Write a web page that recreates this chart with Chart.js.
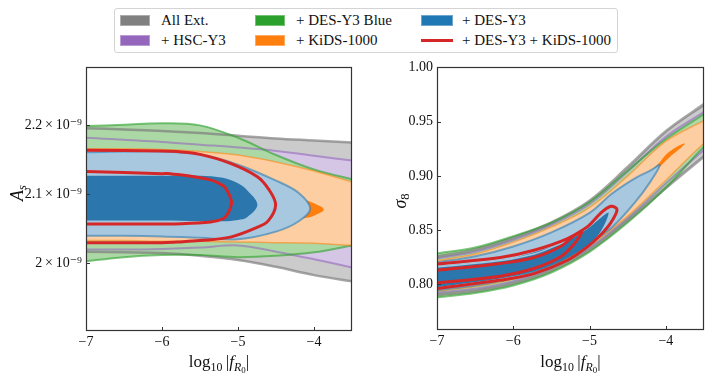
<!DOCTYPE html>
<html>
<head>
<meta charset="utf-8">
<script src="https://cdn.jsdelivr.net/npm/chart.js@4.4.1/dist/chart.umd.min.js"></script>
<style>
  body { margin: 0; background: #fff; }
  #page { position: relative; width: 713px; height: 381px; overflow: hidden; font-family: "Liberation Serif", "DejaVu Serif", serif; color: #111; }
  #legend { position: absolute; left: 114px; top: 8px; width: 504px; height: 45px; border: 1px solid #d4d4d4; border-radius: 3px; box-sizing: border-box; }
  .txt { position: absolute; font-size: 15px; line-height: 20px; white-space: nowrap; }
  .patch { position: absolute; width: 30px; height: 11px; box-sizing: border-box; }
  .holder { position: absolute; top: 55px; height: 326px; }
  .xlab { position: absolute; top: 351px; text-align: center; font-size: 17px; line-height: 22px; }
  .ylab { position: absolute; font-size: 18px; transform: translate(-50%, -50%) rotate(-90deg); white-space: nowrap; }
  sub { font-size: 70%; vertical-align: -0.3em; line-height: 0; }
  sub sub { font-size: 75%; vertical-align: -0.25em; }
</style>
</head>
<body>
<div id="page">
  <div id="legend"></div>
  <div class="holder" style="left:0;width:360px"><canvas id="asChart" width="360" height="326"></canvas></div>
  <div class="holder" style="left:360px;width:353px"><canvas id="s8Chart" width="353" height="326"></canvas></div>
  <div class="xlab" style="left:86px;width:266px">log<sub>10</sub>&#8201;|<i>f</i><sub><i>R</i><sub>0</sub></sub>|</div>
  <div class="xlab" style="left:437px;width:267px">log<sub>10</sub>&#8201;|<i>f</i><sub><i>R</i><sub>0</sub></sub>|</div>
  <div class="ylab" style="left:17px;top:193px"><i>A</i><sub><i>s</i></sub></div>
  <div class="ylab" style="left:400px;top:201px"><i>σ</i><sub>8</sub></div>
</div>
<script>
// legend
const seriesNames = ['All Ext.', '+ HSC-Y3', '+ DES-Y3 Blue', '+ KiDS-1000', '+ DES-Y3', '+ DES-Y3 + KiDS-1000'];
const seriesColors = ['#808080', '#9467bd', '#2ca02c', '#ff7f0e', '#1f77b4', '#d62728'];

// axes
const xTicks = [-7, -6, -5, -4];
const xTickLabels = ['\u22127', '\u22126', '\u22125', '\u22124'];
const asTicks = [2.0, 2.1, 2.2];
const asTickLabels = ['2\u2009\u00d7\u200910\u207b\u2079', '2.1\u2009\u00d7\u200910\u207b\u2079', '2.2\u2009\u00d7\u200910\u207b\u2079'];
const s8Ticks = [0.80, 0.85, 0.90, 0.95, 1.00];
const s8TickLabels = ['0.80', '0.85', '0.90', '0.95', '1.00'];

// left panel, A_s in units of 1e-9; 95% bands on a shared log10|fR0| grid
const fR0Grid = [-7.3, -7, -6.5, -6, -5.5, -5, -4.5, -4, -3.5, -3.2];
const asAllExtTop = [2.197, 2.196, 2.194, 2.192, 2.189, 2.185, 2.181, 2.178, 2.175, 2.173];
const asAllExtBot = [2.017, 2.017, 2.016, 2.015, 2.011, 2.005, 1.995, 1.983, 1.974, 1.969];
const asHscTop = [2.183, 2.182, 2.179, 2.176, 2.172, 2.168, 2.163, 2.156, 2.149, 2.145];
const asHscBot = [2.020, 2.020, 2.020, 2.021, 2.023, 2.026, 2.017, 2.006, 1.994, 1.986];
const asDesBlueTop = [2.198, 2.199, 2.201, 2.203, 2.200, 2.182, 2.157, 2.136, 2.122, 2.115];
const asDesBlueBot = [1.999, 2.003, 2.009, 2.012, 2.012, 2.009, 2.011, 2.016, 2.026, 2.032];
const asKidsTop = [2.166, 2.166, 2.166, 2.165, 2.162, 2.157, 2.147, 2.134, 2.118, 2.108];
const asKidsBot = [2.033, 2.033, 2.033, 2.032, 2.032, 2.031, 2.030, 2.029, 2.026, 2.025];
// closed contours: x, upper edge, lower edge, tip
const asKids68X = [-7.3, -5, -4.3, -4.1, -4.0];
const asKids68Top = [2.110, 2.105, 2.096, 2.091, 2.087];
const asKids68Bot = [2.055, 2.058, 2.063, 2.066, 2.069];
const asKids68Tip = [-3.87, 2.078];
const asDesX = [-7.3, -7, -6.5, -6, -5.5, -5, -4.5, -4.2];
const asDesTop = [2.161, 2.161, 2.162, 2.162, 2.158, 2.143, 2.120, 2.102];
const asDesBot = [2.040, 2.040, 2.040, 2.039, 2.037, 2.035, 2.046, 2.061];
const asDesTip = [-4.05, 2.079];
const asDes68X = [-7.3, -7, -6, -5.5, -5.2, -5.0, -4.88];
const asDes68Top = [2.127, 2.127, 2.127, 2.127, 2.124, 2.116, 2.106];
const asDes68Bot = [2.062, 2.062, 2.062, 2.061, 2.061, 2.063, 2.067];
const asDes68Tip = [-4.745, 2.085];
const asComboX = [-7.3, -7, -6, -5.8, -5.5, -5.1, -4.75, -4.6];
const asComboTop = [2.164, 2.164, 2.163, 2.162, 2.158, 2.145, 2.126, 2.108];
const asComboBot = [2.030, 2.030, 2.030, 2.031, 2.033, 2.038, 2.052, 2.062];
const asComboTip = [-4.505, 2.085];
const asCombo68X = [-7.3, -7, -6, -5.89, -5.36, -5.19, -5.13];
const asCombo68Top = [2.133, 2.133, 2.130, 2.130, 2.121, 2.112, 2.103];
const asCombo68Bot = [2.057, 2.057, 2.057, 2.057, 2.060, 2.065, 2.073];
const asCombo68Tip = [-5.085, 2.088];

// right panel, sigma_8
const s8AllExtTop = [0.822, 0.8255, 0.832, 0.843, 0.857, 0.877, 0.908, 0.941, 0.966, 0.981];
const s8AllExtBot = [0.788, 0.7905, 0.794, 0.801, 0.813, 0.832, 0.859, 0.889, 0.918, 0.935];
const s8HscTop = [0.821, 0.824, 0.830, 0.841, 0.855, 0.874, 0.904, 0.936, 0.959, 0.973];
const s8HscBot = [0.790, 0.7925, 0.796, 0.803, 0.815, 0.834, 0.861, 0.893, 0.924, 0.940];
const s8DesBlueTop = [0.825, 0.8285, 0.834, 0.8445, 0.857, 0.876, 0.905, 0.934, 0.957, 0.970];
const s8DesBlueBot = [0.785, 0.788, 0.792, 0.799, 0.811, 0.830, 0.857, 0.889, 0.927, 0.945];
const s8KidsTop = [0.819, 0.822, 0.828, 0.839, 0.853, 0.871, 0.900, 0.932, 0.951, 0.962];
const s8KidsBot = [0.791, 0.794, 0.798, 0.805, 0.817, 0.836, 0.863, 0.896, 0.930, 0.946];
const s8Kids68X = [-4.5, -4.3, -4.1, -4.0, -3.9, -3.8];
const s8Kids68Top = [0.889, 0.8985, 0.911, 0.9195, 0.925, 0.929];
const s8Kids68Bot = [0.8875, 0.8955, 0.907, 0.914, 0.9205, 0.926];
const s8Kids68Tip = [-3.75, 0.9298];
const s8DesX = [-7.3, -7, -6.5, -6, -5.5, -5, -4.7, -4.4, -4.2];
const s8DesTop = [0.8175, 0.8205, 0.826, 0.835, 0.848, 0.866, 0.884, 0.898, 0.905];
const s8DesBot = [0.791, 0.7945, 0.799, 0.806, 0.817, 0.838, 0.853, 0.876, 0.895];
const s8DesTip = [-4.08, 0.910];
const s8Des68X = [-7.3, -7, -6.17, -5.73, -5.29, -5.03, -4.86];
const s8Des68Top = [0.8135, 0.8165, 0.8225, 0.8295, 0.8405, 0.851, 0.861];
const s8Des68Bot = [0.7945, 0.7975, 0.8055, 0.812, 0.824, 0.836, 0.848];
const s8Des68Tip = [-4.75, 0.866];
const s8DesRidgeX = [-7.3, -7, -6.17, -5.73, -5.4, -5.25];
const s8DesRidgeY = [0.8135, 0.816, 0.822, 0.828, 0.837, 0.842];
const s8ComboX = [-7.3, -7, -6.17, -5.73, -5.29, -5.03, -4.86, -4.72];
const s8ComboTop = [0.816, 0.8187, 0.8248, 0.8315, 0.8423, 0.853, 0.8653, 0.872];
const s8ComboBot = [0.7935, 0.7963, 0.804, 0.810, 0.8223, 0.8346, 0.8453, 0.857];
const s8ComboTip = [-4.64, 0.869];
const s8Combo68X = [-7.3, -7, -6.17, -5.73, -5.38, -5.2];
const s8Combo68Top = [0.811, 0.8131, 0.8193, 0.8248, 0.835, 0.845];
const s8Combo68Bot = [0.7995, 0.8015, 0.8076, 0.8147, 0.8255, 0.8375];
const s8Combo68Tip = [-5.10, 0.849];

// light fills for 95%, solid for 68%
const light = { allExt: '#cbcbcb', hsc: '#d6c6e6', desBlue: '#acd8a5', kids: '#fdcea1', des: '#a8c8df' };
const edge = {
  allExt: 'rgba(120,120,120,0.65)', hsc: 'rgba(148,103,189,0.6)', desBlue: 'rgba(44,160,44,0.6)',
  kids: 'rgba(255,127,14,0.55)', des: 'rgba(31,119,180,0.55)'
};

function contour(xs, top, bot, tip) {
  const pts = xs.map((x, i) => ({ x: x, y: top[i] }));
  if (tip) pts.push({ x: tip[0], y: tip[1] });
  for (let i = xs.length - 1; i >= 0; i--) pts.push({ x: xs[i], y: bot[i] });
  pts.push(pts[0]);
  return pts;
}

function fillSet(pts, color, order) {
  return { data: pts, showLine: true, fill: 'shape', backgroundColor: color, borderColor: 'rgba(0,0,0,0)',
    borderWidth: 0, pointRadius: 0, tension: 0.35, order: order, clip: 0 };
}
function lineSet(pts, color, width, order) {
  return { data: pts, showLine: true, fill: false, borderColor: color, borderWidth: width,
    pointRadius: 0, tension: 0.35, order: order, clip: 0 };
}

const frame = {
  id: 'frame',
  afterDraw(chart) {
    const { ctx, chartArea: a, scales } = chart;
    ctx.save();
    ctx.strokeStyle = '#333';
    ctx.lineWidth = 1;
    ctx.beginPath();
    scales.x.ticks.forEach(t => {
      const p = Math.round(scales.x.getPixelForValue(t.value)) + 0.5;
      ctx.moveTo(p, a.bottom); ctx.lineTo(p, a.bottom - 4);
    });
    scales.y.ticks.forEach(t => {
      const p = Math.round(scales.y.getPixelForValue(t.value)) + 0.5;
      ctx.moveTo(a.left, p); ctx.lineTo(a.left + 4, p);
    });
    ctx.stroke();
    ctx.lineWidth = 1.2;
    ctx.strokeRect(Math.round(a.left) + 0.5, Math.round(a.top) + 0.5, Math.round(a.width) - 1, Math.round(a.height) - 1);
    ctx.restore();
  }
};

const tickFont = { family: '"Liberation Serif", "DejaVu Serif", serif', size: 14 };

function makeChart(id, datasets, yMin, yMax, yTicks, yLabels, pad, yWidth, xHeight) {
  return new Chart(document.getElementById(id), {
    type: 'scatter',
    data: { datasets: datasets },
    options: {
      responsive: false,
      animation: false,
      events: [],
      layout: { padding: pad },
      elements: { line: { capBezierPoints: false } },
      plugins: { legend: { display: false }, tooltip: { enabled: false } },
      scales: {
        x: {
          type: 'linear', min: -7, max: -3.5,
          grid: { display: false, drawTicks: false },
          border: { display: false },
          afterBuildTicks: s => { s.ticks = xTicks.map(v => ({ value: v })); },
          afterFit: s => { s.height = xHeight; },
          ticks: { autoSkip: false, maxRotation: 0, padding: 3, color: '#111', font: tickFont,
            callback: (v, i) => xTickLabels[i] }
        },
        y: {
          type: 'linear', min: yMin, max: yMax,
          grid: { display: false, drawTicks: false },
          border: { display: false },
          afterBuildTicks: s => { s.ticks = yTicks.map(v => ({ value: v })); },
          afterFit: s => { s.width = yWidth; },
          ticks: { autoSkip: false, padding: 4, color: '#111', font: tickFont,
            callback: (v, i) => yLabels[i] }
        }
      }
    },
    plugins: [frame]
  });
}

// left panel datasets
const asSets = [
  fillSet(contour(fR0Grid, asAllExtTop, asAllExtBot), light.allExt, 20),
  fillSet(contour(fR0Grid, asHscTop, asHscBot), light.hsc, 19),
  fillSet(contour(fR0Grid, asDesBlueTop, asDesBlueBot), light.desBlue, 18),
  fillSet(contour(fR0Grid, asKidsTop, asKidsBot), light.kids, 17),
  fillSet(contour(asKids68X, asKids68Top, asKids68Bot, asKids68Tip), seriesColors[3], 16),
  fillSet(contour(asDesX, asDesTop, asDesBot, asDesTip), light.des, 15),
  fillSet(contour(asDes68X, asDes68Top, asDes68Bot, asDes68Tip), '#2b77ad', 14),
  lineSet(contour(fR0Grid, asAllExtTop, asAllExtBot), edge.allExt, 2.5, 10),
  lineSet(contour(fR0Grid, asHscTop, asHscBot), edge.hsc, 2, 9),
  lineSet(contour(fR0Grid, asDesBlueTop, asDesBlueBot), edge.desBlue, 2, 8),
  lineSet(contour(fR0Grid, asKidsTop, asKidsBot), edge.kids, 1.5, 7),
  lineSet(contour(asDesX, asDesTop, asDesBot, asDesTip), edge.des, 2, 6),
  lineSet(contour(asComboX, asComboTop, asComboBot, asComboTip), seriesColors[5], 3, 4),
  lineSet(contour(asCombo68X, asCombo68Top, asCombo68Bot, asCombo68Tip), seriesColors[5], 3, 3)
];

// right panel datasets
const s8Sets = [
  fillSet(contour(fR0Grid, s8AllExtTop, s8AllExtBot), light.allExt, 20),
  fillSet(contour(fR0Grid, s8HscTop, s8HscBot), light.hsc, 19),
  fillSet(contour(fR0Grid, s8DesBlueTop, s8DesBlueBot), light.desBlue, 18),
  fillSet(contour(fR0Grid, s8KidsTop, s8KidsBot), light.kids, 17),
  fillSet(contour(s8Kids68X, s8Kids68Top, s8Kids68Bot, s8Kids68Tip), seriesColors[3], 16),
  fillSet(contour(s8DesX, s8DesTop, s8DesBot, s8DesTip), light.des, 15),
  fillSet(contour(s8Des68X, s8Des68Top, s8Des68Bot, s8Des68Tip), '#2b77ad', 14),
  lineSet(contour(fR0Grid, s8AllExtTop, s8AllExtBot), edge.allExt, 3, 10),
  lineSet(contour(fR0Grid, s8HscTop, s8HscBot), edge.hsc, 2, 9),
  lineSet(contour(fR0Grid, s8DesBlueTop, s8DesBlueBot), edge.desBlue, 2, 8),
  lineSet(contour(fR0Grid, s8KidsTop, s8KidsBot), edge.kids, 1.5, 7),
  lineSet(contour(s8DesX, s8DesTop, s8DesBot, s8DesTip), edge.des, 2, 6),
  lineSet(s8DesRidgeX.map((x, i) => ({ x: x, y: s8DesRidgeY[i] })), light.des, 1.5, 5),
  lineSet(contour(s8ComboX, s8ComboTop, s8ComboBot, s8ComboTip), seriesColors[5], 3, 4),
  lineSet(contour(s8Combo68X, s8Combo68Top, s8Combo68Bot, s8Combo68Tip), seriesColors[5], 3, 3)
];

makeChart('asChart', asSets, 1.902, 2.284, asTicks, asTickLabels, { left: 0, right: 8, top: 10, bottom: 0 }, 86, 50);
makeChart('s8Chart', s8Sets, 0.758, 1.0, s8Ticks, s8TickLabels, { left: 0, right: 9, top: 11.7, bottom: 0 }, 77, 51);

// legend: 3 columns x 2 rows, column-major
const legendCols = [5, 140, 306];
const legendRows = [5.5, 25.5];
const legendEl = document.getElementById('legend');
seriesNames.forEach((name, i) => {
  const col = Math.floor(i / 2), row = i % 2;
  const left = legendCols[col], top = legendRows[row];
  const mark = document.createElement('div');
  if (i === 5) {
    mark.style.cssText = `position:absolute;left:${left}px;top:${top + 4}px;width:32px;height:3.5px;background:${seriesColors[i]}`;
  } else {
    mark.className = 'patch';
    mark.style.cssText = `left:${left}px;top:${top}px;width:${col === 2 ? 32 : 30}px;background:${seriesColors[i]};border:1px solid rgba(255,255,255,0.35)`;
  }
  legendEl.appendChild(mark);
  const t = document.createElement('div');
  t.className = 'txt';
  t.style.left = (left + 41) + 'px';
  t.style.top = (top - 4.5) + 'px';
  t.textContent = name;
  legendEl.appendChild(t);
});
</script>
</body>
</html>
